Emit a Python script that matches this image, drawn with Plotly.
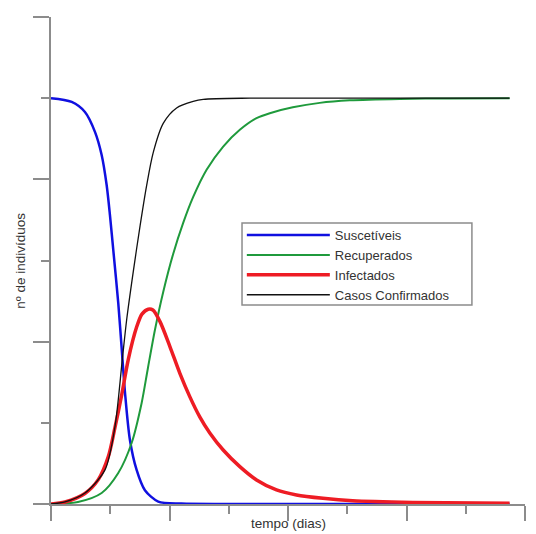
import plotly.graph_objects as go

# time (days) and values (population units)
t_s = [0, 3.49, 5.73, 7.42, 8.55, 9.39, 9.95, 10.51, 11.35, 12.02, 12.48, 13.32, 14.45, 15.85, 18.1, 22, 30, 77.4]
suscetiveis = [5.0, 4.954, 4.83, 4.585, 4.30, 3.93, 3.56, 3.13, 2.477, 1.824, 1.38, 0.789, 0.42, 0.17, 0.03, 0.005, 0.0, 0.0]

t_r = [0, 4.55, 8.55, 11.35, 13.61, 15.3, 16.36, 17.54, 18.94, 20.62, 22.31, 24.0, 26.26, 29.06, 31.87, 34.69, 36.93, 40.81, 45.36, 50.42, 58.85, 67.28, 77.4]
recuperados = [0, 0.025, 0.136, 0.382, 0.752, 1.245, 1.676, 2.144, 2.613, 3.081, 3.463, 3.783, 4.118, 4.404, 4.61, 4.754, 4.815, 4.887, 4.942, 4.973, 4.991, 4.997, 5.0]

t_i = [0, 2.36, 5.73, 7.98, 9.66, 10.79, 11.92, 13.04, 14.45, 15.35, 16.41, 17.2, 18.38, 20.07, 21.75, 23.44, 25.13, 26.8, 29.06, 31.87, 34.69, 38.06, 41.43, 45.9, 50.9, 61.05, 77.4]
infectados = [0, 0.025, 0.13, 0.30, 0.58, 0.94, 1.34, 1.78, 2.18, 2.34, 2.40, 2.39, 2.25, 1.94, 1.61, 1.32, 1.07, 0.875, 0.665, 0.46, 0.296, 0.173, 0.111, 0.07, 0.04, 0.02, 0.009]

t_c = [0, 2.36, 5.73, 9.11, 10.79, 12.02, 12.77, 13.88, 15.04, 16.13, 17.25, 18.94, 21.2, 24.0, 25.7, 33.6, 77.4]
confirmados = [0, 0.025, 0.135, 0.42, 0.95, 1.77, 2.27, 2.86, 3.43, 3.92, 4.33, 4.69, 4.88, 4.96, 4.985, 5.0, 5.0]

names = ["Suscetíveis", "Recuperados", "Infectados", "Casos Confirmados"]
FONT = "Liberation Sans, Arial, sans-serif"
SMOOTH = 0.8

fig = go.Figure()
fig.add_trace(go.Scatter(x=t_s, y=suscetiveis, mode="lines", name=names[0],
                         line=dict(color="#1010e0", width=2.5, shape="spline", smoothing=SMOOTH)))
fig.add_trace(go.Scatter(x=t_r, y=recuperados, mode="lines", name=names[1],
                         line=dict(color="#1f9a3c", width=2, shape="spline", smoothing=SMOOTH)))
fig.add_trace(go.Scatter(x=t_i, y=infectados, mode="lines", name=names[2],
                         line=dict(color="#ee1c24", width=3.5, shape="spline", smoothing=SMOOTH)))
fig.add_trace(go.Scatter(x=t_c, y=confirmados, mode="lines", name=names[3],
                         line=dict(color="#111111", width=1.3, shape="spline", smoothing=SMOOTH)))

axis_common = dict(showgrid=False, zeroline=False, showticklabels=False,
                   showline=True, linecolor="#8c8c8c", linewidth=1.5,
                   ticks="outside", tickcolor="#8c8c8c", tickwidth=1.5)

fig.update_xaxes(range=[0, 80], tick0=0, dtick=20, ticklen=15,
                 minor=dict(dtick=10, ticklen=8, ticks="outside", tickcolor="#8c8c8c", tickwidth=1.5),
                 **axis_common)
fig.update_yaxes(range=[0, 6], tick0=0, dtick=2, ticklen=16,
                 minor=dict(dtick=1, ticklen=8, ticks="outside", tickcolor="#8c8c8c", tickwidth=1.5),
                 **axis_common)

# page body has an 8px margin, so the figure is sized/offset to compensate
fig.update_layout(
    width=528, height=526,
    margin=dict(l=43, r=11, t=9, b=30),
    paper_bgcolor="white", plot_bgcolor="white",
    font=dict(family=FONT, size=13, color="#333333"),
    showlegend=True,
    legend=dict(x=0.4026, y=0.583, xanchor="left", yanchor="top",
                bgcolor="rgba(0,0,0,0)", borderwidth=0,
                itemwidth=83, font=dict(size=13, family=FONT, color="#333333"),
                tracegroupgap=0),
    shapes=[
        dict(type="rect", xref="paper", yref="paper", x0=0.4030, x1=0.888, y0=0.4086, y1=0.577,
             line=dict(color="#8c8c8c", width=1.5), fillcolor="white", layer="above"),
    ],
    annotations=[
        dict(text="tempo (dias)", xref="paper", yref="paper", x=0.5, y=-0.041,
             xanchor="center", yanchor="middle", showarrow=False,
             font=dict(size=13.5, family=FONT, color="#333333")),
        dict(text="nº de indivíduos", xref="paper", yref="paper", x=-0.065, y=0.5,
             xanchor="center", yanchor="middle", textangle=-90, showarrow=False,
             font=dict(size=13.5, family=FONT, color="#333333")),
    ],
)

fig.write_html("out.html")
